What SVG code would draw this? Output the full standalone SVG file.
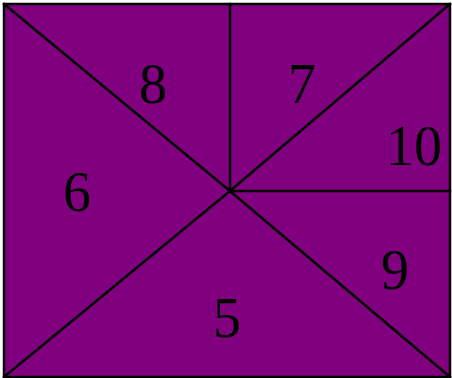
<svg xmlns="http://www.w3.org/2000/svg" width="452" height="378" viewBox="0 0 452 378">
<style>
.e{stroke:#000;stroke-width:2.5;fill:none;stroke-linecap:square}
.t{font-family:"Liberation Serif","Times New Roman",serif;font-size:56px;fill:#000;text-anchor:middle}
</style>
<rect x="0" y="0" width="452" height="378" fill="#fff"/>
<g id="regions">
<rect x="4" y="4" width="446" height="373" fill="#800080" stroke="#000" stroke-width="2.5"/>
</g>
<g id="connectors">
<line class="e" x1="4" y1="4" x2="230" y2="191"/>
<line class="e" x1="450" y1="4" x2="230" y2="191"/>
<line class="e" x1="4" y1="377" x2="230" y2="191"/>
<line class="e" x1="450" y1="377" x2="230" y2="191"/>
<line class="e" x1="230" y1="4" x2="230" y2="191"/>
<line class="e" x1="230" y1="191" x2="450" y2="191"/>
</g>
<g id="n8"><text class="t" x="153" y="103">8</text></g>
<g id="n7"><text class="t" x="302" y="103">7</text></g>
<g id="n10"><text class="t" x="414" y="165">10</text></g>
<g id="n6"><text class="t" x="77" y="211">6</text></g>
<g id="n9"><text class="t" x="395" y="289">9</text></g>
<g id="n5"><text class="t" x="227" y="337">5</text></g>
</svg>
